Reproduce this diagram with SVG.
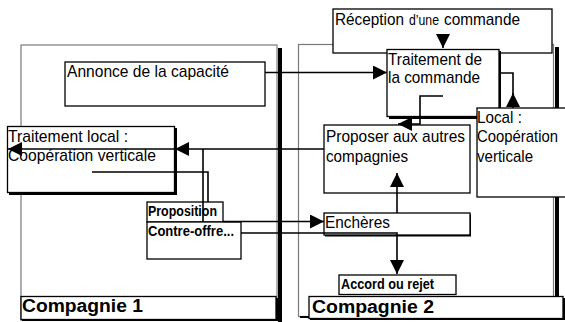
<svg xmlns="http://www.w3.org/2000/svg" width="565" height="322" viewBox="0 0 565 322">
<defs>
<style>
.frame{fill:#fff;stroke:#7a7a7a;stroke-width:1.2}
.bar{fill:#000}
.box{fill:#fff;stroke:#000;stroke-width:1.3}
.sh{fill:#000}
.t{font-family:"Liberation Sans",Arial,sans-serif;font-size:17px;fill:#000}
.s{font-family:"Liberation Sans",Arial,sans-serif;font-size:14px;fill:#000}
.b{font-family:"Liberation Sans",Arial,sans-serif;font-size:14px;font-weight:bold;fill:#000}
.c{font-family:"Liberation Sans",Arial,sans-serif;font-size:18px;font-weight:bold;fill:#000}
.con{fill:none;stroke:#000;stroke-width:1.6}
</style>
<marker id="ah" markerUnits="userSpaceOnUse" markerWidth="14" markerHeight="14" viewBox="0 0 14 14" refX="14" refY="7" orient="auto">
<path d="M0,0 L14,7 L0,14 z" fill="#000"/>
</marker>
</defs>
<rect width="565" height="322" fill="#fff"/>

<g id="compagnie1">
<rect class="frame" x="21" y="45" width="256" height="275"/>
<rect class="bar" x="278" y="48" width="4" height="274"/>
</g>
<g id="compagnie2">
<rect class="frame" x="298.5" y="44.5" width="255" height="272"/>
<rect class="sh" x="300" y="316" width="12" height="2"/>
<rect class="bar" x="555" y="47" width="4" height="250"/>
</g>

<g id="annonce">
<rect class="box" x="65" y="62" width="200" height="44"/>
<text class="t" x="67" y="77" textLength="162" lengthAdjust="spacingAndGlyphs">Annonce de la capacité</text>
</g>

<g id="traitement-local">
<rect class="sh" x="9" y="128" width="168" height="67"/>
<rect class="box" x="7.5" y="126.5" width="167" height="66"/>
<text class="t" x="8" y="142" textLength="120" lengthAdjust="spacingAndGlyphs">Traitement local :</text>
<text class="t" x="8" y="161" textLength="148" lengthAdjust="spacingAndGlyphs">Coopération verticale</text>
</g>

<g id="proposition">
<rect class="box" x="147" y="202" width="76" height="20"/>
<text class="b" x="148" y="216" textLength="69" lengthAdjust="spacingAndGlyphs">Proposition</text>
</g>
<g id="contre-offre">
<rect class="box" x="147" y="222" width="94" height="37"/>
<text class="b" x="148" y="236" textLength="86" lengthAdjust="spacingAndGlyphs">Contre-offre...</text>
</g>

<g id="compagnie1-label">
<rect class="sh" x="22" y="298" width="256" height="23"/>
<rect class="box" x="21" y="296.5" width="255" height="23"/>
<text class="c" x="22" y="312" textLength="121" lengthAdjust="spacingAndGlyphs">Compagnie 1</text>
</g>

<g id="reception">
<rect class="box" x="333" y="9" width="219" height="44"/>
<text class="t" x="335" y="25" textLength="69" lengthAdjust="spacingAndGlyphs">Réception</text>
<text class="s" x="409" y="25" textLength="30" lengthAdjust="spacingAndGlyphs">d’une</text>
<text class="t" x="444" y="25" textLength="76" lengthAdjust="spacingAndGlyphs">commande</text>
</g>

<g id="traitement-commande">
<rect class="sh" x="389" y="51" width="112" height="68"/>
<rect class="box" x="387" y="49.5" width="112" height="67"/>
<text class="t" x="388" y="65" textLength="94" lengthAdjust="spacingAndGlyphs">Traitement de</text>
<text class="t" x="388" y="83" textLength="92" lengthAdjust="spacingAndGlyphs">la commande</text>
</g>

<g id="local">
<rect class="box" x="477" y="108" width="92" height="89"/>
<text class="t" x="477" y="123" textLength="45" lengthAdjust="spacingAndGlyphs">Local :</text>
<text class="t" x="477" y="142" textLength="81" lengthAdjust="spacingAndGlyphs">Coopération</text>
<text class="t" x="477" y="162" textLength="56" lengthAdjust="spacingAndGlyphs">verticale</text>
</g>

<g id="proposer">
<rect class="box" x="324" y="125" width="146" height="68"/>
<text class="t" x="326" y="142" textLength="139" lengthAdjust="spacingAndGlyphs">Proposer aux autres</text>
<text class="t" x="326" y="162" textLength="82" lengthAdjust="spacingAndGlyphs">compagnies</text>
</g>

<g id="encheres">
<rect class="sh" x="325" y="214.5" width="146" height="22"/>
<rect class="box" x="324" y="213" width="146" height="22"/>
<text class="t" x="325" y="228" textLength="65" lengthAdjust="spacingAndGlyphs">Enchères</text>
</g>

<g id="accord">
<rect class="box" x="339" y="275" width="117" height="19.5"/>
<text class="b" x="341" y="289" textLength="93" lengthAdjust="spacingAndGlyphs">Accord ou rejet</text>
</g>

<g id="compagnie2-label">
<rect class="sh" x="310" y="298" width="255" height="22"/>
<rect class="box" x="309" y="296.5" width="254" height="22"/>
<text class="c" x="312" y="313" textLength="122" lengthAdjust="spacingAndGlyphs">Compagnie 2</text>
</g>

<g id="connectors">
<path class="con" d="M265,72.5 H387" marker-end="url(#ah)"/>
<path class="con" d="M443,35 V48" marker-end="url(#ah)"/>
<path class="con" d="M499,73 H513 V100"/>
<path class="con" d="M513,108 V93" marker-end="url(#ah)"/>
<path class="con" d="M443,96 H420 V124 H398" marker-end="url(#ah)"/>
<path class="con" d="M324,149 H175" marker-end="url(#ah)"/>
<path class="con" d="M175,149 H8" marker-end="url(#ah)"/>
<path class="con" d="M203,149 V222"/>
<path class="con" d="M92,172 H208 V202"/>
<path class="con" d="M223,221.5 H324" marker-end="url(#ah)"/>
<path class="con" d="M241,233 H397 V274" marker-end="url(#ah)"/>
<path class="con" d="M397,213 V173" marker-end="url(#ah)"/>
</g>
</svg>
